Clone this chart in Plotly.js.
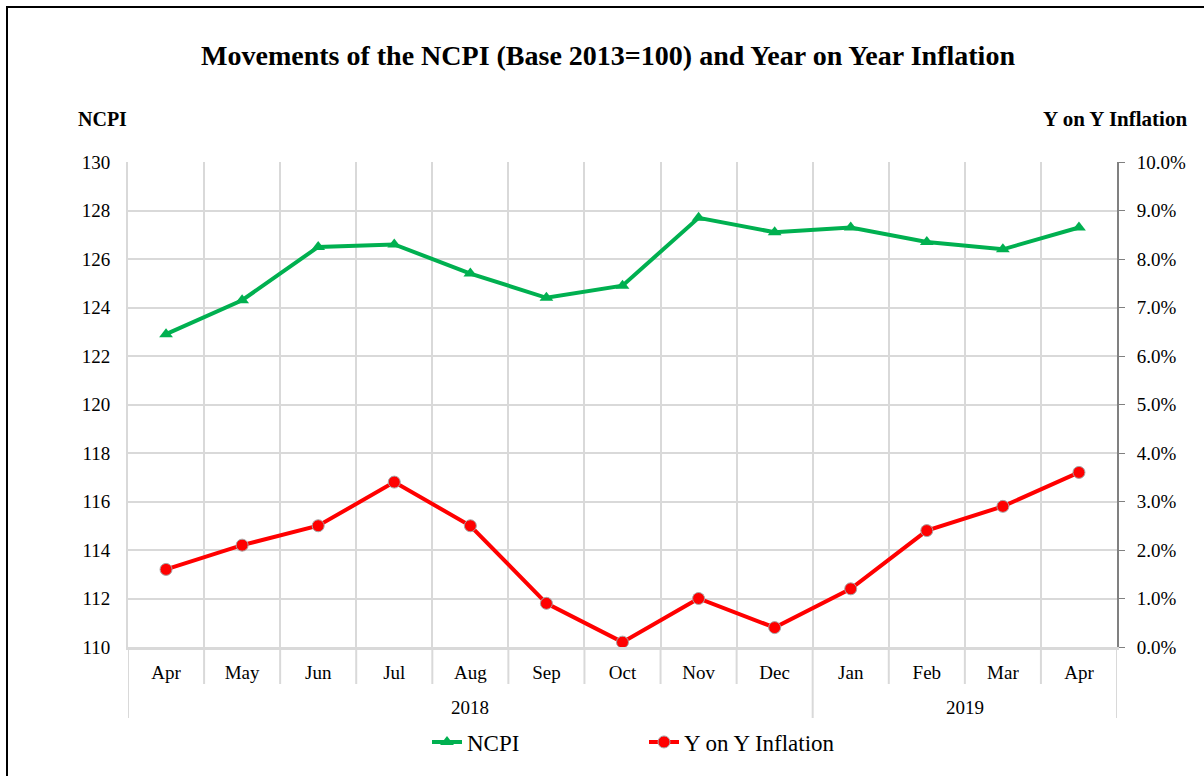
<!DOCTYPE html>
<html>
<head>
<meta charset="utf-8">
<script src="https://cdn.plot.ly/plotly-3.0.1.min.js"></script>
<style>html,body{margin:0;padding:0;background:#fff;}#chart{width:1204px;height:776px;}</style>
</head>
<body>
<div id="chart"></div>
<script>
const years = ["2018","2018","2018","2018","2018","2018","2018","2018","2018","2019","2019","2019","2019"];
const months = ["Apr","May","Jun","Jul","Aug","Sep","Oct","Nov","Dec","Jan","Feb","Mar","Apr"];
const ncpi = [122.9, 124.3, 126.5, 126.6, 125.4, 124.4, 124.9, 127.7, 127.1, 127.3, 126.7, 126.4, 127.3];
const inflation = [0.016, 0.021, 0.025, 0.034, 0.025, 0.009, 0.001, 0.010, 0.004, 0.012, 0.024, 0.029, 0.036];
const leftTicks = [110,112,114,116,118,120,122,124,126,128,130];

const FONT = "'Times New Roman', 'Liberation Serif', serif";
const cats = months.map((m, i) => m + " " + years[i]);

const traces = [
  {
    x: cats, y: ncpi, name: "NCPI", type: "scatter", mode: "lines+markers",
    line: {color: "#00B050", width: 4},
    marker: {symbol: "triangle-up", size: 12, color: "#00B050"},
    yaxis: "y"
  },
  {
    x: cats, y: inflation, name: "Y on Y Inflation", type: "scatter", mode: "lines+markers",
    line: {color: "#FF0000", width: 4},
    marker: {symbol: "circle", size: 12, color: "#FF0000", line: {color: "#a6a6a6", width: 1}},
    yaxis: "y2"
  }
];

// decorations: category dividers below the axis and year labels
const plotH = 485;
const monthDiv = (684 - 647) / plotH;
const yearDiv = (718 - 647) / plotH;
const shapes = [
  {type: "rect", xref: "paper", yref: "paper",
   x0: (7-128)/989, x1: (1215-128)/989, y0: (647-790)/plotH, y1: (647-7)/plotH,
   line: {color: "#000", width: 2}, layer: "below"}
];
const annotations = [
  {text: "<b>NCPI</b>", xref: "paper", yref: "paper", x: (102-128)/989, y: (647-119)/plotH,
   xanchor: "center", yanchor: "middle", showarrow: false, font: {family: FONT, size: 20, color: "#000"}},
  {text: "<b>Y on Y Inflation</b>", xref: "paper", yref: "paper", x: (1115-128)/989, y: (647-119)/plotH,
   xanchor: "center", yanchor: "middle", showarrow: false, font: {family: FONT, size: 21, color: "#000"}}
];
let groupStart = 0;
for (let i = 0; i <= months.length; i++) {
  const isYearEdge = (i === 0 || i === months.length || years[i] !== years[i-1]);
  shapes.push({type: "line", xref: "x", yref: "paper", x0: i - 0.5, x1: i - 0.5,
    y0: 0, y1: -(isYearEdge ? yearDiv : monthDiv), line: {color: "#d9d9d9", width: 2}, layer: "below"});
  if (i > 0 && (i === months.length || years[i] !== years[i-1])) {
    annotations.push({text: years[i-1], xref: "x", yref: "paper", x: (groupStart + i - 1) / 2,
      y: (647 - 707) / plotH, xanchor: "center", yanchor: "middle", showarrow: false,
      font: {family: FONT, size: 19, color: "#000"}});
    groupStart = i;
  }
}

const layout = {
  width: 1204, height: 776,
  margin: {l: 128, r: 87, t: 162, b: 129},
  paper_bgcolor: "#ffffff", plot_bgcolor: "#ffffff",
  font: {family: FONT, size: 19, color: "#000"},
  title: {
    text: "<b>Movements of the NCPI (Base 2013=100) and Year on Year Inflation</b>",
    font: {family: FONT, size: 28, color: "#000"},
    x: 0.505, xref: "container", xanchor: "center",
    y: 1 - 55/776, yref: "container", yanchor: "middle"
  },
  showlegend: true,
  legend: {
    orientation: "h", x: (427-128)/989, xanchor: "left", y: (647-742)/plotH, yanchor: "middle",
    font: {family: FONT, size: 23, color: "#000"}, entrywidth: 172, entrywidthmode: "pixels",
    traceorder: "normal"
  },
  xaxis: {
    type: "category", categoryorder: "array", categoryarray: cats,
    range: [-0.5, months.length - 0.5], autorange: false,
    tickvals: cats, ticktext: months, tickson: "boundaries",
    showgrid: true, gridcolor: "#d9d9d9", gridwidth: 2,
    showline: true, linecolor: "#d9d9d9", linewidth: 3,
    ticks: "", ticklabelstandoff: 6,
    tickfont: {family: FONT, size: 19, color: "#000"},
    zeroline: false
  },
  yaxis: {
    range: [110, 130], tickvals: leftTicks, ticktext: leftTicks.map(String),
    showgrid: true, gridcolor: "#d9d9d9", gridwidth: 2,
    showline: true, linecolor: "#d9d9d9", linewidth: 2,
    ticks: "", zeroline: false, ticklabelstandoff: 12,
    tickfont: {family: FONT, size: 19, color: "#000"}
  },
  yaxis2: {
    range: [0, 0.10], dtick: 0.01, tickformat: ".1%",
    overlaying: "y", side: "right",
    showgrid: false, zeroline: false,
    showline: true, linecolor: "#808080", linewidth: 2,
    ticks: "outside", ticklen: 6, tickcolor: "#808080", tickwidth: 1,
    ticklabelstandoff: 8,
    tickfont: {family: FONT, size: 19, color: "#000"}
  },
  annotations: annotations,
  shapes: shapes
};

Plotly.newPlot("chart", traces, layout, {displayModeBar: false, staticPlot: true});
</script>
</body>
</html>
